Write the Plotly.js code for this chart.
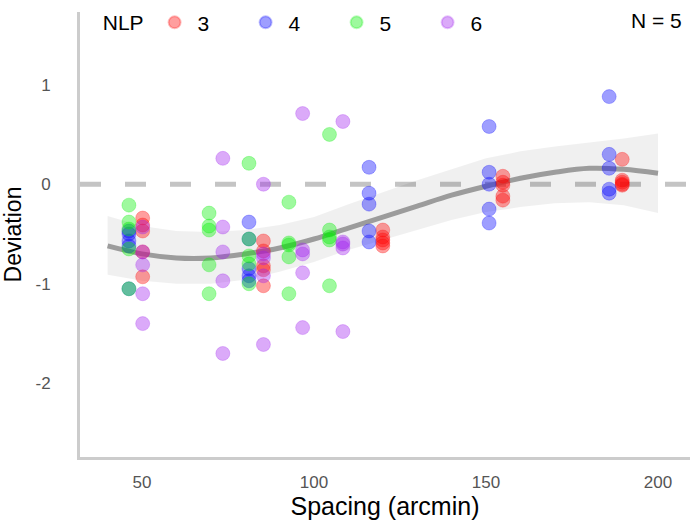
<!DOCTYPE html>
<html>
<head>
<meta charset="utf-8">
<script src="https://cdn.plot.ly/plotly-3.0.1.min.js"></script>
<style>html,body{margin:0;padding:0;background:#fff;}#chart{width:692px;height:523px;}</style>
</head>
<body>
<div id="chart"></div>
<script>
// ---- data ----
const nlpLevels = ["3", "4", "5", "6"];
const nlpColors = ["#ff0000", "#0000ff", "#00ee00", "#a020f0"];

const spacing3 = [50.2, 85.3, 120.0, 154.9, 189.6];
const deviation3 = [
  [-0.34, -0.41, -0.47, -0.68, -0.93],
  [-0.57, -0.67, -0.82, -0.86, -1.02],
  [-0.46, -0.53, -0.56, -0.59, -0.62],
  [0.08, 0.02, -0.01, -0.12, -0.16],
  [0.25, 0.04, 0.02, 0.00, -0.01]
];
const spacing4 = [46.2, 81.1, 116.0, 150.9, 185.8];
const deviation4 = [
  [-0.47, -0.50, -0.57, -0.62, -1.05],
  [-0.38, -0.55, -0.85, -0.92, -0.97],
  [0.17, -0.09, -0.20, -0.47, -0.58],
  [0.58, 0.12, 0.00, -0.25, -0.39],
  [0.88, 0.30, 0.16, -0.05, -0.09]
];
const spacing5 = [46.2, 69.5, 81.1, 92.7, 104.5];
const deviation5 = [
  [-0.21, -0.38, -0.45, -0.65, -1.05],
  [-0.29, -0.42, -0.46, -0.81, -1.10],
  [0.21, -0.55, -0.72, -0.80, -1.00],
  [-0.18, -0.59, -0.61, -0.73, -1.10],
  [0.50, -0.46, -0.53, -0.56, -1.02]
];
const spacing6 = [50.2, 73.5, 85.3, 96.7, 108.4];
const deviation6 = [
  [-0.43, -0.68, -0.81, -1.10, -1.40],
  [0.26, -0.43, -0.68, -0.97, -1.70],
  [0.00, -0.70, -0.74, -0.92, -1.61],
  [0.71, -0.66, -0.70, -0.89, -1.44],
  [0.63, -0.58, -0.60, -0.64, -1.48]
];

// smoothed trend and its confidence band
const smoothX  = [40, 50, 60, 70, 80, 90, 100, 110, 120, 130, 140, 150, 160, 170, 180, 190, 200];
const smoothY  = [-0.62, -0.70, -0.74, -0.74, -0.70, -0.64, -0.55, -0.44, -0.33, -0.22, -0.11, -0.02, 0.06, 0.12, 0.16, 0.15, 0.11];
const bandHigh = [-0.32, -0.42, -0.47, -0.48, -0.46, -0.41, -0.33, -0.20, -0.08, 0.04, 0.15, 0.26, 0.33, 0.38, 0.42, 0.46, 0.51];
const bandLow  = [-0.91, -0.97, -1.00, -1.00, -0.96, -0.88, -0.78, -0.66, -0.56, -0.46, -0.36, -0.28, -0.23, -0.19, -0.18, -0.21, -0.29];

const xTicks = [50, 100, 150, 200];
const yTicks = [-2, -1, 0, 1];
const nLabel = "N = 5";

// ---- build traces ----
function flatten(spacings, devs) {
  const xs = [], ys = [];
  spacings.forEach((s, i) => devs[i].forEach(v => { xs.push(s); ys.push(v); }));
  return {x: xs, y: ys};
}
const groups = [
  flatten(spacing3, deviation3),
  flatten(spacing4, deviation4),
  flatten(spacing5, deviation5),
  flatten(spacing6, deviation6)
];
function rgba(hex, a) {
  const r = parseInt(hex.slice(1,3),16), g = parseInt(hex.slice(3,5),16), b = parseInt(hex.slice(5,7),16);
  return `rgba(${r},${g},${b},${a})`;
}

const traces = [];
traces.push({
  x: smoothX.concat(smoothX.slice().reverse()),
  y: bandHigh.concat(bandLow.slice().reverse()),
  type: 'scatter', mode: 'lines', fill: 'toself',
  fillcolor: 'rgba(0,0,0,0.06)', line: {width: 0, color: 'rgba(0,0,0,0)'},
  showlegend: false, hoverinfo: 'skip'
});
traces.push({
  x: smoothX, y: smoothY, type: 'scatter', mode: 'lines',
  line: {color: '#9c9c9c', width: 5, shape: 'spline', smoothing: 1},
  showlegend: false, hoverinfo: 'skip'
});
groups.forEach((g, i) => {
  traces.push({
    x: g.x, y: g.y, type: 'scatter', mode: 'markers', name: nlpLevels[i],
    marker: {size: 14, color: rgba(nlpColors[i], 0.38), line: {width: 1, color: rgba(nlpColors[i], 0.25)}}
  });
});

const font = "'Liberation Sans', Arial, sans-serif";
const layout = {
  width: 692, height: 523,
  margin: {l: 80, r: 2, t: 10, b: 66},
  paper_bgcolor: '#ffffff', plot_bgcolor: '#ffffff',
  font: {family: font, color: '#000'},
  xaxis: {
    range: [31.98, 209.3], tickvals: xTicks, ticktext: xTicks.map(String),
    showgrid: false, zeroline: false, showline: true, linecolor: '#cccccc', linewidth: 3,
    ticks: '', ticklabelstandoff: 8,
    tickfont: {size: 17, color: '#555555', family: font},
    title: {text: 'Spacing (arcmin)', font: {size: 25, color: '#000', family: font}, standoff: 6}
  },
  yaxis: {
    range: [-2.74, 1.73], tickvals: yTicks, ticktext: yTicks.map(String),
    showgrid: false, zeroline: false, showline: true, linecolor: '#cccccc', linewidth: 3,
    ticks: '', ticklabelstandoff: 23,
    tickfont: {size: 17, color: '#555555', family: font},
    title: {text: 'Deviation', font: {size: 23, color: '#000', family: font}, standoff: 14}
  },
  shapes: [{
    type: 'line', xref: 'paper', x0: 0, x1: 1, yref: 'y', y0: 0, y1: 0,
    line: {color: '#c4c4c4', width: 5, dash: '21px,24px'}, layer: 'below'
  }],
  showlegend: true,
  legend: {
    orientation: 'h', x: 0.034, xanchor: 'left', y: 1.022, yanchor: 'top',
    bgcolor: 'rgba(0,0,0,0)', borderwidth: 0,
    font: {size: 21, color: '#000', family: font},
    title: {text: 'NLP', side: 'left', font: {size: 21, color: '#000', family: font}},
    itemwidth: 36, entrywidth: 40, entrywidthmode: 'pixels', itemsizing: 'constant'
  },
  annotations: [{
    text: nLabel, xref: 'paper', yref: 'paper', x: 0.99, y: 1.012,
    xanchor: 'right', yanchor: 'top', showarrow: false,
    font: {size: 21, color: '#000', family: font}
  }]
};

Plotly.newPlot('chart', traces, layout, {displayModeBar: false, staticPlot: true});
</script>
</body>
</html>
